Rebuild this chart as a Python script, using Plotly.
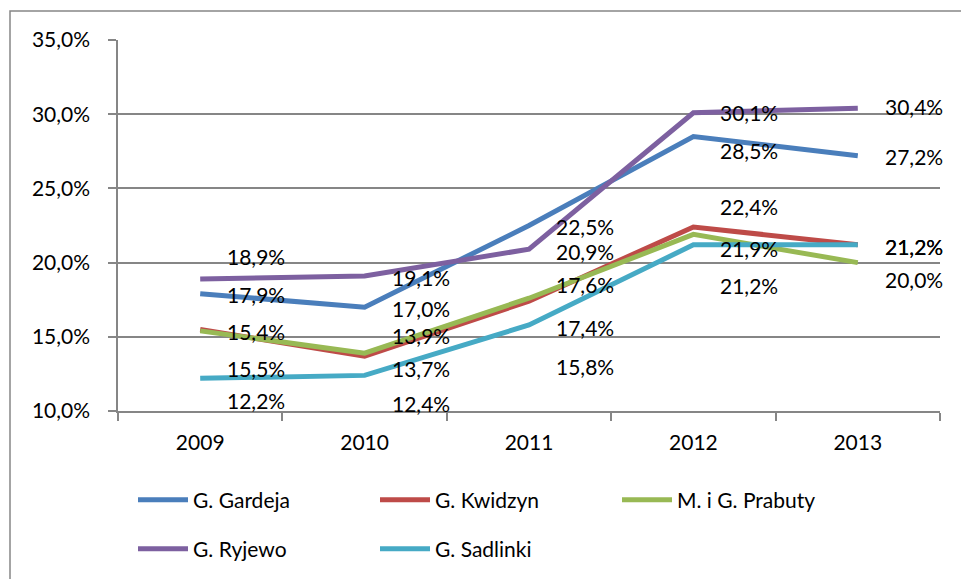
import plotly.graph_objects as go

years = ["2009", "2010", "2011", "2012", "2013"]
series_names = ["G. Gardeja", "G. Kwidzyn", "M. i G. Prabuty", "G. Ryjewo", "G. Sadlinki"]
gardeja = [17.9, 17.0, 22.5, 28.5, 27.2]
kwidzyn = [15.5, 13.7, 17.4, 22.4, 21.2]
prabuty = [15.4, 13.9, 17.6, 21.9, 20.0]
ryjewo = [18.9, 19.1, 20.9, 30.1, 30.4]
sadlinki = [12.2, 12.4, 15.8, 21.2, 21.2]
y_ticks = [10, 15, 20, 25, 30, 35]

series_values = [gardeja, kwidzyn, prabuty, ryjewo, sadlinki]
colors = ["#4A7EBB", "#BE4B48", "#98B954", "#7D60A0", "#46AAC5"]
# vertical pixel offset (down positive) of each data label from its point
label_dy = [
    [1, 1, 1, 14, 1],
    [39, 12, 26, -20, 2],
    [1, -18, -14, 14, 17],
    [-22, 2, 2, 0, -2],
    [22, 28, 42, 41, 2],
]


def pct(v):
    return f"{v:.1f}".replace(".", ",") + "%"


FONT = "Lato, Carlito, Calibri, sans-serif"
GRID = "#868686"

fig = go.Figure()
for i, (name, vals) in enumerate(zip(series_names, series_values)):
    fig.add_trace(go.Scatter(
        x=years, y=vals, name=name, mode="lines",
        line=dict(color=colors[i], width=5),
        legend="legend" if i < 3 else "legend2",
        hoverinfo="skip",
    ))

for i, vals in enumerate(series_values):
    for j, v in enumerate(vals):
        fig.add_annotation(
            x=j, y=v, xref="x", yref="y",
            text=pct(v),
            showarrow=False, xshift=56, yshift=-label_dy[i][j],
            font=dict(family=FONT, size=21, color="#000000"),
        )

W, H = 961, 579
L, R, T, B = 118, 940, 40, 411
ITEMW = 50
leg_common = dict(orientation="h", xref="container", yref="container",
                  x=(193 - 10 - ITEMW) / W, xanchor="left", yanchor="middle",
                  entrywidth=237 - 10 - ITEMW, entrywidthmode="pixels",
                  itemwidth=ITEMW,
                  font=dict(family=FONT, size=21), bgcolor="rgba(0,0,0,0)")
fig.update_layout(
    width=W, height=H,
    margin=dict(l=L, r=W - R, t=T, b=H - B, pad=0),
    paper_bgcolor="white", plot_bgcolor="white",
    font=dict(family=FONT, size=21, color="#000000"),
    showlegend=True,
    legend=dict(leg_common, y=(H - 500) / H),
    legend2=dict(leg_common, y=(H - 549) / H),
    shapes=[dict(type="rect", xref="paper", yref="paper",
                 x0=(10 - L) / (R - L), x1=1.2,
                 y0=-1.0, y1=(B - 11) / (B - T),
                 line=dict(color=GRID, width=1.5), fillcolor="rgba(0,0,0,0)",
                 layer="below")],
)
fig.update_xaxes(
    type="category", range=[-0.5, 4.5], tickson="boundaries",
    showline=True, linecolor=GRID, linewidth=1.5,
    ticks="outside", ticklen=8, tickcolor=GRID, tickwidth=1.5,
    showgrid=False, ticklabelstandoff=12,
    tickfont=dict(family=FONT, size=21),
)
fig.update_yaxes(
    range=[10, 35], tickmode="array", tickvals=y_ticks,
    ticktext=[pct(t) for t in y_ticks],
    showline=True, linecolor=GRID, linewidth=1.5,
    ticks="outside", ticklen=8, tickcolor=GRID, tickwidth=1.5,
    showgrid=True, gridcolor=GRID, gridwidth=1.5, zeroline=False,
    ticklabelstandoff=14, tickfont=dict(family=FONT, size=21),
)

fig.write_html("out.html", config={"displayModeBar": False},
               post_script="document.body.style.margin='0';")
